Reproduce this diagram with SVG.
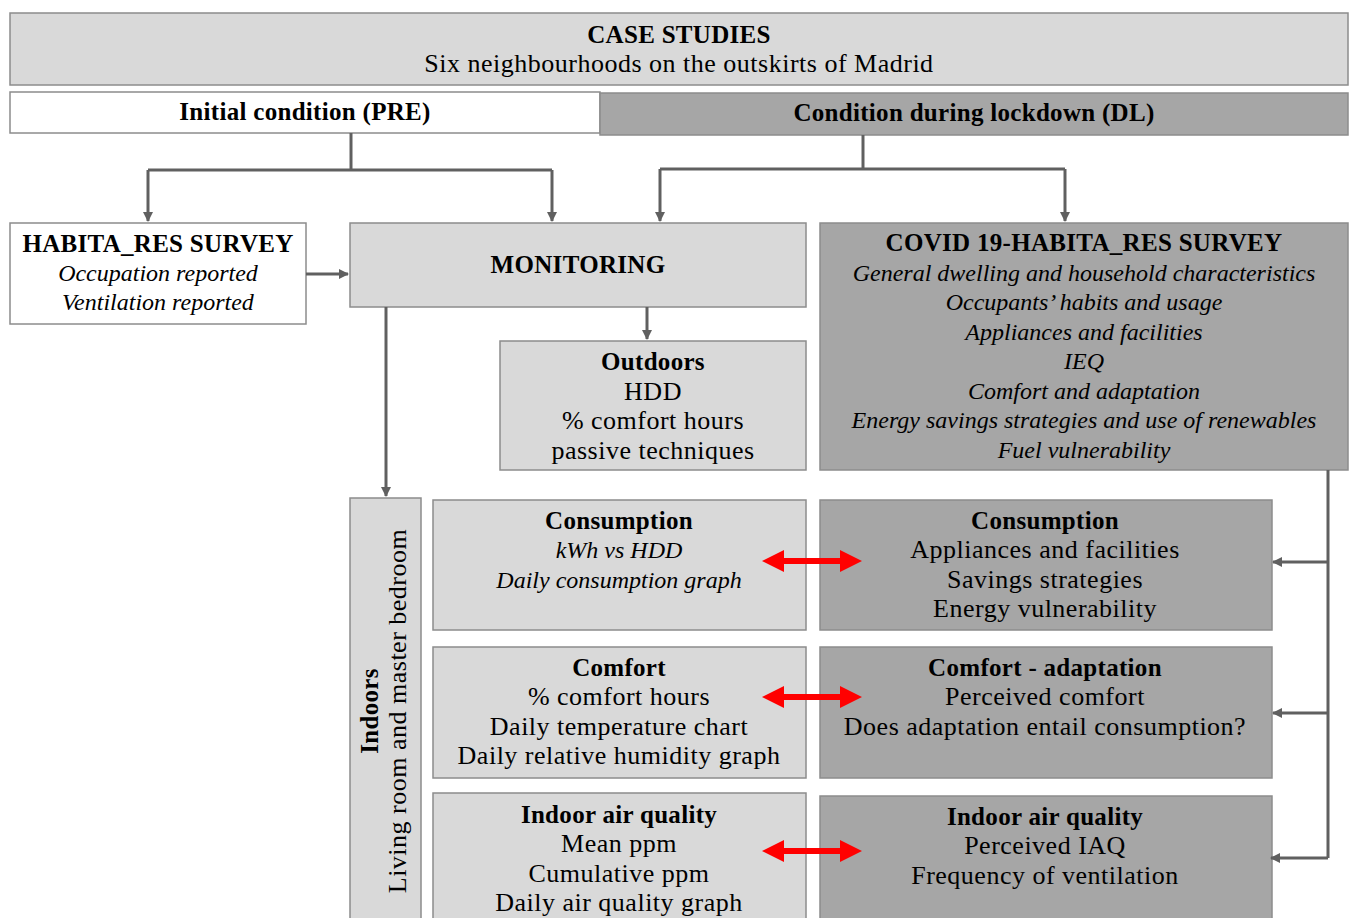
<svg xmlns="http://www.w3.org/2000/svg" width="1350" height="918" viewBox="0 0 1350 918">
<style>
.box{stroke:#8c8c8c;stroke-width:1.5}
.w{fill:#ffffff}
.l{fill:#d9d9d9}
.d{fill:#a6a6a6}
text{font-family:"Liberation Serif","DejaVu Serif",serif;font-size:26px;letter-spacing:0.5px;fill:#000;text-anchor:middle}
.b{font-weight:bold;font-size:25px;letter-spacing:0.3px}
.i{font-style:italic;font-size:24px;letter-spacing:0}
.con{fill:none;stroke:#606060;stroke-width:3}
.red{fill:#ff0000}
</style>
<defs>
<marker id="ah" viewBox="0 0 10 10" refX="9" refY="5" markerWidth="10" markerHeight="10" markerUnits="userSpaceOnUse" orient="auto">
<path d="M0,0 L10,5 L0,10 z" fill="#606060"/>
</marker>
</defs>
<rect width="1350" height="918" fill="#ffffff"/>

<g id="case-studies">
<rect class="box l" x="10" y="13" width="1338" height="72"/>
<text class="b" x="679" y="43">CASE STUDIES</text>
<text x="679" y="72">Six neighbourhoods on the outskirts of Madrid</text>
</g>

<g id="pre">
<rect class="box w" x="10" y="92" width="590" height="41"/>
<text class="b" x="305" y="120">Initial condition (PRE)</text>
</g>

<g id="dl">
<rect class="box d" x="600" y="93" width="748" height="42"/>
<text class="b" x="974" y="121">Condition during lockdown (DL)</text>
</g>

<g id="habita">
<rect class="box w" x="10" y="223" width="296" height="101"/>
<text class="b" x="158" y="252">HABITA_RES SURVEY</text>
<text class="i" x="158" y="281">Occupation reported</text>
<text class="i" x="158" y="310">Ventilation reported</text>
</g>

<g id="monitoring">
<rect class="box l" x="350" y="223" width="456" height="84"/>
<text class="b" x="578" y="273">MONITORING</text>
</g>

<g id="covid">
<rect class="box d" x="820" y="223" width="528" height="247"/>
<text class="b" x="1084" y="251">COVID 19-HABITA_RES SURVEY</text>
<text class="i" x="1084" y="281">General dwelling and household characteristics</text>
<text class="i" x="1084" y="310">Occupants’ habits and usage</text>
<text class="i" x="1084" y="340">Appliances and facilities</text>
<text class="i" x="1084" y="369">IEQ</text>
<text class="i" x="1084" y="399">Comfort and adaptation</text>
<text class="i" x="1084" y="428">Energy savings strategies and use of renewables</text>
<text class="i" x="1084" y="458">Fuel vulnerability</text>
</g>

<g id="outdoors">
<rect class="box l" x="500" y="341" width="306" height="129"/>
<text class="b" x="653" y="370">Outdoors</text>
<text x="653" y="400">HDD</text>
<text x="653" y="429">% comfort hours</text>
<text x="653" y="459">passive techniques</text>
</g>

<g id="indoors">
<rect class="box l" x="350" y="498" width="71" height="430"/>
<text class="b" transform="translate(378,711) rotate(-90)">Indoors</text>
<text transform="translate(406,711) rotate(-90)">Living room and master bedroom</text>
</g>

<g id="consumption-mon">
<rect class="box l" x="433" y="500" width="373" height="130"/>
<text class="b" x="619" y="529">Consumption</text>
<text class="i" x="619" y="558">kWh vs HDD</text>
<text class="i" x="619" y="588">Daily consumption graph</text>
</g>

<g id="comfort-mon">
<rect class="box l" x="433" y="647" width="373" height="131"/>
<text class="b" x="619" y="676">Comfort</text>
<text x="619" y="705">% comfort hours</text>
<text x="619" y="735">Daily temperature chart</text>
<text x="619" y="764">Daily relative humidity graph</text>
</g>

<g id="iaq-mon">
<rect class="box l" x="433" y="793" width="373" height="135"/>
<text class="b" x="619" y="823">Indoor air quality</text>
<text x="619" y="852">Mean ppm</text>
<text x="619" y="882">Cumulative ppm</text>
<text x="619" y="911">Daily air quality graph</text>
</g>

<g id="consumption-survey">
<rect class="box d" x="820" y="500" width="452" height="130"/>
<text class="b" x="1045" y="529">Consumption</text>
<text x="1045" y="558">Appliances and facilities</text>
<text x="1045" y="588">Savings strategies</text>
<text x="1045" y="617">Energy vulnerability</text>
</g>

<g id="comfort-survey">
<rect class="box d" x="820" y="647" width="452" height="131"/>
<text class="b" x="1045" y="676">Comfort - adaptation</text>
<text x="1045" y="705">Perceived comfort</text>
<text x="1045" y="735">Does adaptation entail consumption?</text>
</g>

<g id="iaq-survey">
<rect class="box d" x="820" y="796" width="452" height="132"/>
<text class="b" x="1045" y="825">Indoor air quality</text>
<text x="1045" y="854">Perceived IAQ</text>
<text x="1045" y="884">Frequency of ventilation</text>
</g>

<g id="connectors">
<path class="con" d="M351,133 V170"/>
<path class="con" d="M148,170 H552"/>
<path class="con" d="M148,170 V221" marker-end="url(#ah)"/>
<path class="con" d="M552,170 V221" marker-end="url(#ah)"/>
<path class="con" d="M863,135 V169"/>
<path class="con" d="M660,169 H1065"/>
<path class="con" d="M660,169 V221" marker-end="url(#ah)"/>
<path class="con" d="M1065,169 V221" marker-end="url(#ah)"/>
<path class="con" d="M306,274 H348" marker-end="url(#ah)"/>
<path class="con" d="M647,307 V339" marker-end="url(#ah)"/>
<path class="con" d="M386,307 V496" marker-end="url(#ah)"/>
<path class="con" d="M1328,470 V858"/>
<path class="con" d="M1328,562 H1273" marker-end="url(#ah)"/>
<path class="con" d="M1328,713 H1273" marker-end="url(#ah)"/>
<path class="con" d="M1328,858 H1271" marker-end="url(#ah)"/>
<polygon class="red" points="762,561 784,550 784,558 840,558 840,550 862,561 840,572 840,564 784,564 784,572"/>
<polygon class="red" points="762,697 784,686 784,694 840,694 840,686 862,697 840,708 840,700 784,700 784,708"/>
<polygon class="red" points="762,851 784,840 784,848 840,848 840,840 862,851 840,862 840,854 784,854 784,862"/>
</g>
</svg>
